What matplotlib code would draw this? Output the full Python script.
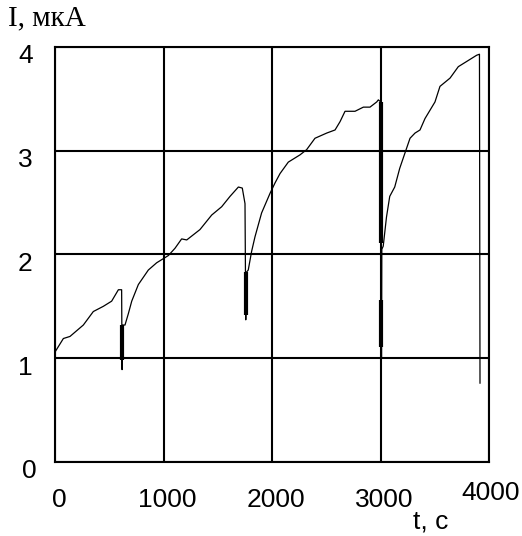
import matplotlib
matplotlib.use("Agg")
import matplotlib.pyplot as plt
from matplotlib.transforms import ScaledTranslation

# ---- data ----
t = [0, 77, 138, 261, 353, 445, 522, 584, 614, 618, 625, 645, 676, 707, 768, 860,
     937, 1045, 1106, 1167, 1214, 1336, 1444, 1536, 1613, 1690, 1726, 1751, 1758,
     1765, 1781, 1812, 1843, 1904, 1982, 2028, 2074, 2150, 2258, 2319, 2396, 2504,
     2581, 2627, 2673, 2765, 2842, 2903, 2965, 2980, 3002, 3004, 3010, 3012, 3025,
     3055, 3085, 3131, 3177, 3226, 3272, 3318, 3364, 3410, 3456, 3502, 3548, 3641,
     3717, 3794, 3886, 3912, 3917]
current = [1.06, 1.19, 1.21, 1.32, 1.45, 1.50, 1.55, 1.66, 1.66, 0.89, 1.32, 1.32,
           1.43, 1.55, 1.71, 1.85, 1.92, 1.99, 2.06, 2.15, 2.14, 2.24, 2.38, 2.46,
           2.56, 2.65, 2.64, 2.49, 1.37, 1.83, 1.85, 2.03, 2.17, 2.40, 2.59, 2.69,
           2.78, 2.89, 2.96, 3.01, 3.12, 3.17, 3.20, 3.28, 3.38, 3.38, 3.42, 3.42,
           3.47, 3.49, 3.47, 1.01, 1.01, 2.05, 2.08, 2.36, 2.56, 2.65, 2.83, 2.98,
           3.12, 3.17, 3.20, 3.31, 3.39, 3.47, 3.62, 3.70, 3.81, 3.86, 3.92, 3.93,
           0.76]

# thick (oscillating) parts of the drops
drop_t = [620, 1760, 3002, 3002]
drop_lo = [0.98, 1.42, 2.11, 1.11]
drop_hi = [1.32, 1.83, 3.47, 1.56]

x_ticks = [0, 1000, 2000, 3000, 4000]
x_ticklabels = ["0", "1000", "2000", "3000", "4000"]
y_ticks = [0, 1, 2, 3, 4]
y_ticklabels = ["0", "1", "2", "3", "4"]

x_label = "t, c"
y_label = "I, мкА"

# ---- figure ----
fig = plt.figure(figsize=(5.22, 5.36), dpi=100)
ax = fig.add_axes([0.1054, 0.1381, 0.8314, 0.7743])

ax.plot(t, current, color="black", lw=0.9, zorder=3)
ax.vlines(drop_t, drop_lo, drop_hi, color="black", lw=3.0, zorder=3)

ax.set_xlim(0, 4000)
ax.set_ylim(0, 4)
ax.set_xticks(x_ticks)
ax.set_yticks(y_ticks)
ax.grid(True, color="black", lw=1.5)
for s in ax.spines.values():
    s.set_linewidth(1.5)
    s.set_color("black")

num_font = dict(family="Liberation Sans", size=19)
ax.set_xticklabels(x_ticklabels, **num_font)
ax.set_yticklabels(y_ticklabels, **num_font)
ax.tick_params(axis="both", length=0)
ax.tick_params(axis="x", pad=19)
ax.tick_params(axis="y", pad=16)

px = 1 / 100.0
for i, lab in enumerate(ax.get_xticklabels()):
    dx, dy = (4, 0) if i < 4 else (2, 7)
    lab.set_transform(lab.get_transform() + ScaledTranslation(dx * px, dy * px, fig.dpi_scale_trans))
for i, lab in enumerate(ax.get_yticklabels()):
    dx = 4 if i == 0 else 0
    lab.set_transform(lab.get_transform() + ScaledTranslation(dx * px, -7 * px, fig.dpi_scale_trans))

fig.text(431 / 522, 1 - 522 / 536, x_label, ha="center", va="center",
         family="Liberation Sans", size=19)
fig.text(8 / 522, 1 - 18 / 536, y_label, ha="left", va="center",
         family="Liberation Serif", size=21)

fig.savefig("out.png", dpi=100)
